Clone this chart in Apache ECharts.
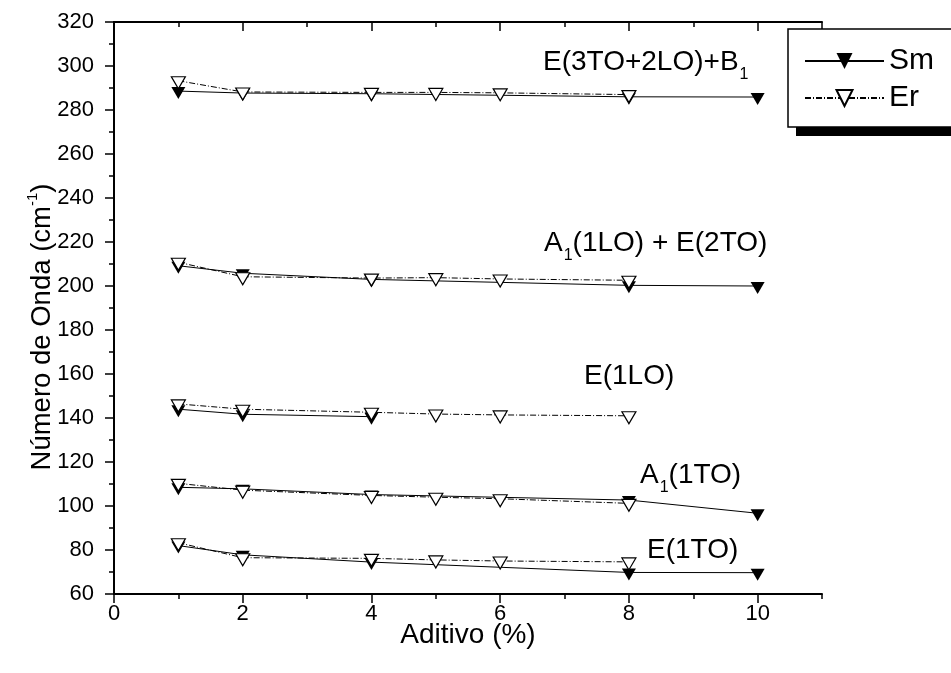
<!DOCTYPE html>
<html>
<head>
<meta charset="utf-8">
<script src="https://cdn.jsdelivr.net/npm/echarts@6/dist/echarts.min.js"></script>
<style>
  html, body { margin: 0; padding: 0; background: #fff; }
  #chart { width: 951px; height: 673px; }
</style>
</head>
<body>
<div id="chart"></div>
<script>
const FONT = "'Liberation Sans', Arial, Helvetica, sans-serif";

// Additive content (%) for each doped series
const additiveSm = [1, 2, 4, 8, 10];
const additiveSmE1LO = [1, 2, 4];
const additiveEr = [1, 2, 4, 5, 6, 8];

// Raman mode positions (cm-1), Sm-doped samples
const smE1TO = [82.0, 77.8, 74.5, 69.8, 69.7];
const smA1TO = [108.5, 107.8, 105.2, 102.7, 96.7];
const smE1LO = [144.0, 141.7, 140.6];
const smA1LO = [209.2, 205.8, 203.0, 200.3, 200.0];
const smE3TO = [288.6, 287.7, 287.4, 286.0, 285.9];

// Raman mode positions (cm-1), Er-doped samples
const erE1TO = [83.3, 76.5, 76.2, 75.5, 75.0, 74.6];
const erA1TO = [110.3, 107.2, 104.8, 104.0, 103.3, 101.2];
const erE1LO = [146.4, 144.0, 142.6, 141.8, 141.4, 141.0];
const erA1LO = [210.8, 204.2, 203.6, 203.8, 203.2, 202.6];
const erE3TO = [293.3, 288.2, 288.0, 288.0, 287.8, 287.0];

// Mode assignments written next to each group of curves
const modeLabels = ['E(3TO+2LO)+B{s|1}', 'A{s|1}(1LO) + E(2TO)', 'E(1LO)', 'A{s|1}(1TO)', 'E(1TO)'];

// Axis ranges and steps
const xMin = 0, xMax = 11, xStep = 2, xMinorStep = 1;
const yMin = 60, yMax = 320, yStep = 20;

const pairs = (xs, ys) => xs.map((x, i) => [x, ys[i]]);

const smGroups = [
  pairs(additiveSm, smE1TO), pairs(additiveSm, smA1TO), pairs(additiveSmE1LO, smE1LO),
  pairs(additiveSm, smA1LO), pairs(additiveSm, smE3TO)
];
const erGroups = [
  pairs(additiveEr, erE1TO), pairs(additiveEr, erA1TO), pairs(additiveEr, erE1LO),
  pairs(additiveEr, erA1LO), pairs(additiveEr, erE3TO)
];

const markerCommon = {
  symbol: 'triangle',
  symbolRotate: 180,
  symbolSize: [14, 12],
  symbolOffset: [0, 2],
  showSymbol: true,
  showAllSymbol: true,
  silent: true
};

const smSeries = smGroups.map(d => Object.assign({
  type: 'line', name: 'Sm', data: d,
  lineStyle: { color: '#000', width: 1, type: 'solid' },
  itemStyle: { color: '#000', borderWidth: 0 }
}, markerCommon));

const erSeries = erGroups.map(d => Object.assign({
  type: 'line', name: 'Er', data: d,
  lineStyle: { color: '#000', width: 1, type: [6, 2, 1, 2] },
  itemStyle: { color: '#fff', borderColor: '#000', borderWidth: 1.2 }
}, markerCommon));

const axisLine = { show: true, lineStyle: { color: '#000', width: 2 } };
const noLabel = { show: false };

const labelRich = { s: { fontSize: 16, fontFamily: FONT, padding: [26, 0, 0, 1] } };
const labelPos = [[543, 62], [544, 243], [584, 376], [640, 475], [647, 550]];

const legendBox = { left: 788, top: 29, height: 98 };

const chart = echarts.init(document.getElementById('chart'), null, { renderer: 'canvas' });
chart.setOption({
  animation: false,
  backgroundColor: '#fff',
  textStyle: { fontFamily: FONT, color: '#000' },
  grid: { left: 114, right: 129, top: 22, bottom: 79, containLabel: false },
  legend: {
    data: ['Sm', 'Er'],
    orient: 'vertical',
    left: legendBox.left, top: legendBox.top,
    padding: [17, 40, 14, 16],
    itemWidth: 79, itemHeight: 20, itemGap: 7,
    backgroundColor: '#fff',
    borderColor: '#000', borderWidth: 1.5, borderRadius: 0,
    textStyle: { fontSize: 30, fontFamily: FONT, color: '#000', lineHeight: 30 },
    selectedMode: false,
    z: 5
  },
  xAxis: [
    {
      type: 'value', position: 'bottom', min: xMin, max: xMax, interval: xStep,
      axisLine, splitLine: { show: false },
      axisTick: { show: true, inside: false, length: 9, lineStyle: { color: '#000', width: 1.5 } },
      axisLabel: { show: true, fontSize: 22, fontFamily: FONT, color: '#000', margin: 9, showMaxLabel: false },
      name: 'Aditivo (%)', nameLocation: 'middle', nameGap: 27, nameMoveOverlap: false,
      nameTextStyle: { fontSize: 28, fontFamily: FONT, color: '#000' }
    },
    {
      type: 'value', position: 'bottom', min: xMin, max: xMax, interval: xMinorStep,
      axisLine: { show: false }, splitLine: { show: false }, axisLabel: noLabel,
      axisTick: { show: true, inside: false, length: 5, lineStyle: { color: '#000', width: 1.5 } }
    },
    {
      type: 'value', position: 'top', min: xMin, max: xMax, interval: xStep,
      axisLine, splitLine: { show: false }, axisLabel: noLabel,
      axisTick: { show: true, inside: true, length: 9, lineStyle: { color: '#000', width: 1.5 } }
    },
    {
      type: 'value', position: 'top', min: xMin, max: xMax, interval: xMinorStep,
      axisLine: { show: false }, splitLine: { show: false }, axisLabel: noLabel,
      axisTick: { show: true, inside: true, length: 5, lineStyle: { color: '#000', width: 1.5 } }
    }
  ],
  yAxis: [
    {
      type: 'value', position: 'left', min: yMin, max: yMax, interval: yStep,
      axisLine, splitLine: { show: false },
      axisTick: { show: true, inside: false, length: 9, lineStyle: { color: '#000', width: 1.5 } },
      minorTick: { show: true, splitNumber: 2, length: 5, lineStyle: { color: '#000', width: 1.5 } },
      minorSplitLine: { show: false },
      axisLabel: { show: true, fontSize: 22, fontFamily: FONT, color: '#000', margin: 20 },
      name: 'Número de Onda (cm{sup|-1})', nameLocation: 'middle', nameGap: 55, nameMoveOverlap: false,
      nameTextStyle: {
        fontSize: 27.5, fontFamily: FONT, color: '#000', padding: [0, 38, 0, 0],
        rich: { sup: { fontSize: 15, fontFamily: FONT, padding: [0, 0, 19, 0] } }
      }
    },
    {
      type: 'value', position: 'right', min: yMin, max: yMax, interval: yStep,
      axisLine, splitLine: { show: false }, axisLabel: noLabel,
      axisTick: { show: true, inside: true, length: 9, lineStyle: { color: '#000', width: 1.5 } },
      minorTick: { show: true, splitNumber: 2, length: 5, lineStyle: { color: '#000', width: 1.5 } },
      minorSplitLine: { show: false }
    }
  ],
  graphic: [
    // drop shadow behind the legend frame
    {
      type: 'rect', z: 4, silent: true,
      shape: { x: legendBox.left + 8, y: legendBox.top + 9, width: 400, height: legendBox.height },
      style: { fill: '#000' }
    }
  ].concat(modeLabels.map((t, i) => ({
    type: 'text',
    x: labelPos[i][0], y: labelPos[i][1],
    silent: true,
    style: {
      text: t, fill: '#000', fontSize: 28, fontFamily: FONT,
      align: 'left', verticalAlign: 'middle', rich: labelRich
    }
  }))),
  series: smSeries.concat(erSeries)
});
</script>
</body>
</html>
